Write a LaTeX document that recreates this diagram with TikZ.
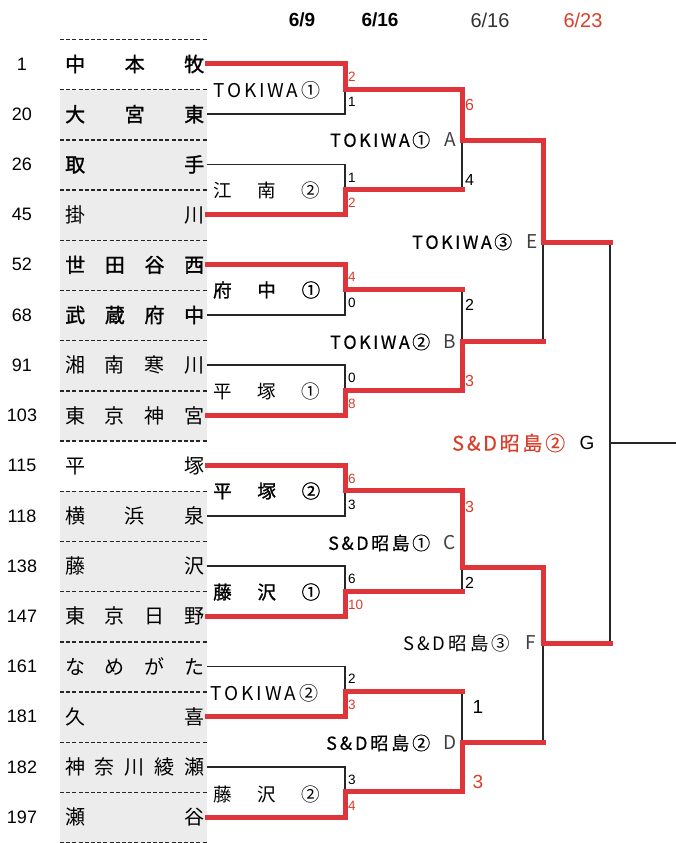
\documentclass[tikz,border=0pt]{standalone}
\usepackage{fontspec}
\setmainfont{Liberation Sans}
\newfontfamily\jp{Noto Sans CJK JP}
\newfontfamily\jpm[FakeBold=0.4]{Noto Sans CJK JP}
\newfontfamily\jpb[FakeBold=1.3]{Noto Sans CJK JP}
\definecolor{brk}{RGB}{222,52,58}
\definecolor{rtxt}{RGB}{218,62,42}
\definecolor{bgc}{RGB}{236,236,236}
\tikzset{
  blk/.style={line width=1.6pt, black!85},
  rd/.style={line width=5pt, brk, line cap=rect, line join=miter},
  dsh/.style={line width=1.3pt, dash pattern=on 4pt off 2.2pt, black!85},
  seed/.style={inner sep=0pt, font=\fontsize{18}{18}\selectfont},
  team/.style={anchor=west, inner sep=0pt, font=\fontsize{20}{20}\selectfont},
  rlab/.style={anchor=west, inner sep=0pt, font=\fontsize{18.5}{18}\selectfont},
  mlab/.style={anchor=west, inner sep=0pt, font=\jpm\fontsize{18}{18}\selectfont},
  lett/.style={inner sep=0pt, black!75, font=\jp\fontsize{19}{18}\selectfont},
  sc/.style={anchor=west, inner sep=0pt, font=\fontsize{13.5}{13}\selectfont},
  scb/.style={anchor=west, inner sep=0pt, font=\fontsize{16}{16}\selectfont},
  scc/.style={inner sep=0pt, font=\fontsize{19}{19}\selectfont},
  date/.style={inner sep=0pt, font=\fontsize{20}{20}\selectfont},
}
\begin{document}
\begin{tikzpicture}[x=1pt,y=-1pt]
\useasboundingbox (0,0) rectangle (676,843);
% background of the team column
\fill[bgc] (60,89.7) rectangle (207,441.1);
\fill[bgc] (60,491.3) rectangle (207,843);
% dashed separators
\foreach \k in {0,...,16}{
  \pgfmathsetmacro\yy{39.5+50.2*\k}
  \draw[dsh] (60,\yy) -- (207,\yy);
}
% dates
\node[date,font=\bfseries\fontsize{19}{20}\selectfont] (d1) at (302,20) {6/9};
\node[date,font=\bfseries\fontsize{19}{20}\selectfont] (d2) at (380,20) {6/16};
\node[date,black!80] (d3) at (490,20) {6/16};
\node[date,rtxt] (d4) at (583,20) {6/23};
% teams
\foreach \i/\num/\nm/\f in {
  1/1/{中\hfill 本\hfill 牧}/\jpb,
  2/20/{大\hfill 宮\hfill 東}/\jpb,
  3/26/{取\hfill 手}/\jpb,
  4/45/{掛\hfill 川}/\jp,
  5/52/{世\hfill 田\hfill 谷\hfill 西}/\jpb,
  6/68/{武\hfill 蔵\hfill 府\hfill 中}/\jpb,
  7/91/{湘\hfill 南\hfill 寒\hfill 川}/\jp,
  8/103/{東\hfill 京\hfill 神\hfill 宮}/\jp,
  9/115/{平\hfill 塚}/\jp,
  10/118/{横\hfill 浜\hfill 泉}/\jp,
  11/138/{藤\hfill 沢}/\jp,
  12/147/{東\hfill 京\hfill 日\hfill 野}/\jp,
  13/161/{な\hfill め\hfill が\hfill た}/\jp,
  14/181/{久\hfill 喜}/\jp,
  15/182/{神\hfill 奈\hfill 川\hfill 綾\hfill 瀬}/\jp,
  16/197/{瀬\hfill 谷}/\jp}{
  \pgfmathsetmacro\yy{64+50.2*(\i-1)}
  \node[seed] (s\i) at (22,\yy) {\num};
  \node[team] (t\i) at (65,\yy) {\f\makebox[139pt][s]{\nm}};
  \coordinate (p\i) at (207,\yy);
}
% round 1 junctions
\foreach \k in {1,...,8}{
  \pgfmathsetmacro\yy{64+50.2*(2*\k-1.5)}
  \coordinate (j\k) at (345,\yy);
  \coordinate (o\k) at (462,\yy);
}
% round 2 junctions
\coordinate (qA) at (462,140); \coordinate (rA) at (543,140);
\coordinate (qB) at (462,341); \coordinate (rB) at (543,341);
\coordinate (qC) at (462,567); \coordinate (rC) at (543,567);
\coordinate (qD) at (462,742); \coordinate (rD) at (543,742);
% round 3
\coordinate (sE) at (543,242); \coordinate (uE) at (610,242);
\coordinate (sF) at (543,643); \coordinate (uF) at (610,643);
\coordinate (gJ) at (610,443); \coordinate (gO) at (676,443);

% black (losing) lines
\foreach \l/\k in {2/1,3/2,6/3,7/4,10/5,11/6,13/7,15/8}{
  \draw[blk] (p\l) -| (j\k);
}
\draw[blk] (o2) -- (qA);
\draw[blk] (o3) -- (qB);
\draw[blk] (o6) -- (qC);
\draw[blk] (o7) -- (qD);
\draw[blk] (rB) -- (sE);
\draw[blk] (rD) -- (sF);
\draw[blk] (uE) -- (uF);
\draw[blk] (gJ) -- (gO);

% red (winning) lines
\foreach \w/\k in {1/1,4/2,5/3,8/4,9/5,12/6,14/7,16/8}{
  \draw[rd] (p\w) -| (j\k) -- (o\k);
}
\draw[rd] (o1) -- (qA) -- (rA);
\draw[rd] (o4) -- (qB) -- (rB);
\draw[rd] (o5) -- (qC) -- (rC);
\draw[rd] (o8) -- (qD) -- (rD);
\draw[rd] (rA) -- (sE) -- (uE);
\draw[rd] (rC) -- (sF) -- (uF);

% round 1 winner labels
\node[rlab,font=\jp\fontsize{19}{18}\selectfont] (w1) at (213,90) {\makebox[107pt][s]{T\hfill O\hfill K\hfill I\hfill W\hfill A\hfill ①}};
\node[rlab] (w2) at (213,190) {\jp\makebox[107pt][s]{江\hfill 南\hfill ②}};
\node[rlab] (w3) at (213,290) {\jpb\makebox[107pt][s]{府\hfill 中\hfill ①}};
\node[rlab] (w4) at (213,391) {\jp\makebox[107pt][s]{平\hfill 塚\hfill ①}};
\node[rlab] (w5) at (213,491) {\jpb\makebox[107pt][s]{平\hfill 塚\hfill ②}};
\node[rlab] (w6) at (213,592) {\jpb\makebox[107pt][s]{藤\hfill 沢\hfill ①}};
\node[rlab,font=\jp\fontsize{19}{18}\selectfont] (w7) at (210,693) {\makebox[108pt][s]{T\hfill O\hfill K\hfill I\hfill W\hfill A\hfill ②}};
\node[rlab] (w8) at (213,794) {\jp\makebox[107pt][s]{藤\hfill 沢\hfill ②}};

% round 1 scores
\node[sc,rtxt] (c1a) at (348,77) {2};   \node[sc] (c1b) at (348,102) {1};
\node[sc] (c2a) at (348,178) {1};       \node[sc,rtxt] (c2b) at (348,203) {2};
\node[sc,rtxt] (c3a) at (348,277) {4};  \node[sc] (c3b) at (348,303) {0};
\node[sc] (c4a) at (348,378) {0};       \node[sc,rtxt] (c4b) at (348,404) {8};
\node[sc,rtxt] (c5a) at (348,479) {6};  \node[sc] (c5b) at (348,505) {3};
\node[sc] (c6a) at (348,579) {6};       \node[sc,rtxt] (c6b) at (348,605) {10};
\node[sc] (c7a) at (348,679) {2};       \node[sc,rtxt] (c7b) at (348,705) {3};
\node[sc] (c8a) at (348,780) {3};       \node[sc,rtxt] (c8b) at (348,806) {4};

% round 2 scores
\node[scb,rtxt] (cAa) at (465,105) {6};  \node[scb] (cAb) at (465,180) {4};
\node[scb] (cBa) at (465,305) {2};       \node[scb,rtxt] (cBb) at (465,381) {3};
\node[scb,rtxt] (cCa) at (465,507) {3};  \node[scb] (cCb) at (465,583) {2};
\node[scc] (cDa) at (478,707) {1};       \node[scc,rtxt] (cDb) at (478,782) {3};

% round 2 labels
\node[mlab] (mA) at (330,140) {\makebox[100pt][s]{T\hfill O\hfill K\hfill I\hfill W\hfill A\hfill ①}};
\node[lett] (lA) at (450,140) {A};
\node[mlab] (mB) at (330,342) {\makebox[100pt][s]{T\hfill O\hfill K\hfill I\hfill W\hfill A\hfill ②}};
\node[lett] (lB) at (450,342) {B};
\node[mlab] (mC) at (328,543) {\makebox[102pt][s]{S\hfill \&\hfill D\hfill 昭\hfill 島\hfill ①}};
\node[lett] (lC) at (450,543) {C};
\node[mlab] (mD) at (326,743) {\makebox[104pt][s]{S\hfill \&\hfill D\hfill 昭\hfill 島\hfill ②}};
\node[lett] (lD) at (450,743) {D};

% round 3 labels
\node[mlab] (mE) at (412,242) {\makebox[100pt][s]{T\hfill O\hfill K\hfill I\hfill W\hfill A\hfill ③}};
\node[lett] (lE) at (532,242) {E};
\node[mlab,font=\jp\fontsize{18.5}{18}\selectfont] (mF) at (403,643) {\makebox[107pt][s]{S\hfill \&\hfill D\hfill 昭\hfill 島\hfill ③}};
\node[lett] (lF) at (531,643) {F};

% final label
\node[mlab,rtxt,font=\jpm\fontsize{20}{20}\selectfont] (mG) at (452,443) {\makebox[113pt][s]{S\hfill \&\hfill D\hfill 昭\hfill 島\hfill ②}};
\node[inner sep=0pt,font=\fontsize{19}{19}\selectfont] (lG) at (587,443) {G};
\end{tikzpicture}
\end{document}
